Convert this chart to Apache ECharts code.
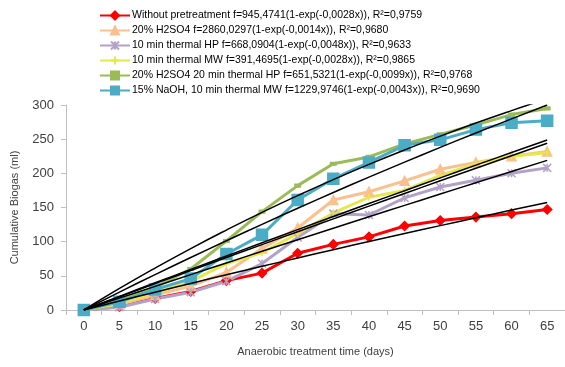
<!DOCTYPE html>
<html>
<head>
<meta charset="utf-8">
<script src="https://cdn.jsdelivr.net/npm/echarts@6/dist/echarts.min.js"></script>
<style>
  html, body { margin: 0; padding: 0; background: #fff; }
  #chart { width: 565px; height: 367px; }
</style>
</head>
<body>
<div id="chart"></div>
<script>
// days
const days = ['0', '5', '10', '15', '20', '25', '30', '35', '40', '45', '50', '55', '60', '65']

// measured cumulative biogas (ml)
const noPretreat = [0, 5, 17, 27, 43, 54, 83, 96, 107, 123, 131, 136, 141, 147]
const h2so4 = [0, 8, 22, 35, 55, 90, 120, 161, 173, 189, 206, 216, 225, 232]
const thermalHP = [0, 4, 16, 26, 42, 68, 106, 141, 139, 164, 180, 190, 200, 208]
const thermalMW = [0, 10, 25, 42, 68, 84, 112, 142, 165, 175, 197, 214, 225, 230]
const h2so4HP = [0, 15, 33, 60, 101, 144, 182, 214, 224, 243, 257, 271, 286, 295]
const naohMW = [0, 12, 30, 46, 82, 110, 161, 192, 216, 241, 249, 264, 274, 277]

// fitted curves (black lines)
const fitNoPretreat = [0, 13.1, 26.1, 38.9, 51.5, 63.9, 76.2, 88.3, 100.2, 111.9, 123.5, 135, 146.2, 157.3]
const fitH2so4 = [0, 20, 39.8, 59.4, 79, 98.4, 117.6, 136.8, 155.8, 174.6, 193.4, 212, 230.4, 248.8]
const fitThermalHP = [0, 17.4, 34.6, 51.8, 68.9, 85.9, 102.8, 119.7, 136.5, 153.1, 169.7, 186.2, 202.7, 219]
const fitThermalMW = [0, 19.3, 38.6, 57.7, 76.8, 95.7, 114.6, 133.4, 152, 170.6, 189.1, 207.5, 225.8, 244]
const fitH2so4HP = [0, 31.5, 61.4, 89.9, 117, 142.9, 167.4, 190.8, 213.1, 234.2, 254.4, 273.6, 291.8, 309.2]
const fitNaohMW = [0, 26.2, 51.8, 76.8, 101.4, 125.4, 148.9, 171.9, 194.4, 216.4, 238, 259.1, 279.7, 299.9]

const names = [
  'Without pretreatment f=945,4741(1-exp(-0,0028x)), R²=0,9759',
  '20% H2SO4 f=2860,0297(1-exp(-0,0014x)), R²=0,9680',
  '10 min thermal HP f=668,0904(1-exp(-0,0048x)), R²=0,9633',
  '10 min thermal MW f=391,4695(1-exp(-0,0028x)), R²=0,9865',
  '20% H2SO4 20 min thermal HP f=651,5321(1-exp(-0,0099x)), R²=0,9768',
  '15% NaOH, 10 min thermal MW f=1229,9746(1-exp(-0,0043x)), R²=0,9690',
]

const font = "'Liberation Sans', Arial, sans-serif"
const asterisk = 'path://M0,0L10,10M10,0L0,10M5,0L5,10'
const plus = 'path://M5,0L5,10M0,5L10,5'

function dataLine(name, data, color, symbol, size, width) {
  return {
    name: name,
    type: 'line',
    data: data,
    symbol: symbol,
    symbolSize: size,
    showAllSymbol: true,
    lineStyle: { color: color, width: width },
    itemStyle: { color: color, borderColor: color, borderWidth: 1.5 },
    z: 2,
  }
}

function fitLine(data) {
  return {
    type: 'line',
    data: data,
    symbol: 'none',
    smooth: true,
    silent: true,
    lineStyle: { color: '#000', width: 1.5 },
    z: 3,
  }
}

let myChart = echarts.init(document.getElementById('chart'))

let options = {
  animation: false,
  legend: {
    orient: 'vertical',
    left: 94,
    top: 5,
    itemWidth: 30,
    itemHeight: 10,
    itemGap: 4,
    textStyle: { fontFamily: font, fontSize: 10.5, color: '#000', padding: [0, 0, 0, -3] },
    data: names,
  },
  grid: {
    left: 66,
    right: 0,
    top: 105,
    bottom: 57,
  },
  xAxis: {
    type: 'category',
    data: days,
    boundaryGap: true,
    name: 'Anaerobic treatment time (days)',
    nameLocation: 'middle',
    nameGap: 36,
    nameTextStyle: { fontFamily: font, fontSize: 11, color: '#404040' },
    axisLine: { lineStyle: { color: '#BFBFBF', width: 1 } },
    axisTick: { show: true, length: 5, lineStyle: { color: '#BFBFBF' } },
    axisLabel: { fontFamily: font, fontSize: 13, color: '#404040', margin: 10 },
    splitLine: { show: false },
  },
  yAxis: {
    type: 'value',
    min: 0,
    max: 300,
    interval: 50,
    name: 'Cumulative Biogas (ml)',
    nameLocation: 'middle',
    nameRotate: 90,
    nameGap: 46,
    nameTextStyle: { fontFamily: font, fontSize: 11, color: '#404040' },
    axisLine: { show: true, lineStyle: { color: '#BFBFBF', width: 1 } },
    axisTick: { show: true, length: 5, lineStyle: { color: '#BFBFBF' } },
    axisLabel: { fontFamily: font, fontSize: 13, color: '#404040', margin: 12 },
    splitLine: { show: false },
  },
  series: [
    dataLine(names[0], noPretreat, '#FF0000', 'diamond', 9, 3),
    dataLine(names[1], h2so4, '#FAC090', 'triangle', 9, 3),
    dataLine(names[2], thermalHP, '#B3A2C7', asterisk, 8, 3),
    dataLine(names[3], thermalMW, '#E4E84A', plus, 7, 3),
    dataLine(names[4], h2so4HP, '#9BBB59', 'rect', [5, 3], 3),
    dataLine(names[5], naohMW, '#4BACC6', 'rect', 11, 3),
    fitLine(fitNoPretreat),
    fitLine(fitH2so4),
    fitLine(fitThermalHP),
    fitLine(fitThermalMW),
    fitLine(fitH2so4HP),
    fitLine(fitNaohMW),
  ],
}

myChart.setOption(options)
</script>
</body>
</html>
